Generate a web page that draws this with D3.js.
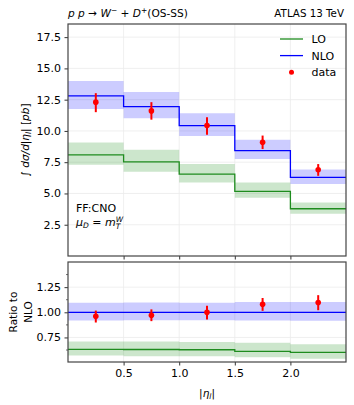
<!DOCTYPE html>
<html>
<head>
<style>
body {margin:0; background:#fff;}
text {font-family:"DejaVu Sans", sans-serif; fill:#000;}
</style>
<script src="https://d3js.org/d3.v7.min.js"></script>
</head>
<body>
<svg id="vis" width="354" height="405"></svg>
<script>
// bins in |eta_l|
var binEdges = [0, 0.5, 1.0, 1.5, 2.0, 2.5];
var binCenters = [0.25, 0.75, 1.25, 1.75, 2.25];

var nlo = [12.8, 11.95, 10.43, 8.43, 6.28];
var nloUp = [14.0, 13.12, 11.42, 9.29, 6.92];
var nloDn = [11.76, 11.02, 9.6, 7.75, 5.75];

var lo = [8.09, 7.53, 6.55, 5.16, 3.78];
var loUp = [9.07, 8.49, 7.35, 5.88, 4.28];
var loDn = [7.29, 6.73, 5.88, 4.66, 3.38];

var dataVal = [12.3, 11.6, 10.43, 9.1, 6.89];
var dataUp = [13.02, 12.3, 11.1, 9.63, 7.35];
var dataDn = [11.5, 10.9, 9.69, 8.55, 6.41];

var topTicks = [2.5, 5.0, 7.5, 10.0, 12.5, 15.0, 17.5];
var ratioTicks = [0.75, 1.00, 1.25];
var ratioMinor = [0.625, 0.875, 1.125, 1.375];
var xTicks = [0.5, 1.0, 1.5, 2.0];

var svg = d3.select("#vis");
var L = 68, R = 346;
var x = d3.scaleLinear().domain([0, 2.5]).range([L, R]);
var yTop = d3.scaleLinear().domain([0, 18.55]).range([256, 24]);
var yRat = d3.scaleLinear().domain([0.506, 1.5]).range([362, 262]);

var LOC = "#1e8c1e", NLOC = "#0000ff";
var FS = "11px";

// step helpers
function stepPts(vals) {
  var pts = [];
  vals.forEach(function(v, i){ pts.push([binEdges[i], v]); pts.push([binEdges[i+1], v]); });
  return pts;
}
function bandPts(up, dn) {
  var pts = [];
  up.forEach(function(v, i){ pts.push({x:binEdges[i], u:v, d:dn[i]}); pts.push({x:binEdges[i+1], u:v, d:dn[i]}); });
  return pts;
}

function panel(y, top, bot, ticks, minor, opts) {
  var g = svg.append("g");
  var clipId = "clip" + top;
  svg.append("clipPath").attr("id", clipId).append("rect")
    .attr("x", L).attr("y", top).attr("width", R - L).attr("height", bot - top);
  // grid
  g.selectAll(".gx").data(xTicks).enter().append("line")
    .attr("x1", function(d){ return x(d); }).attr("x2", function(d){ return x(d); })
    .attr("y1", top).attr("y2", bot).style("stroke", "#ebebeb").style("stroke-width", 0.8);
  g.selectAll(".gy").data(ticks).enter().append("line")
    .attr("x1", L).attr("x2", R)
    .attr("y1", function(d){ return y(d); }).attr("y2", function(d){ return y(d); })
    .style("stroke", "#ebebeb").style("stroke-width", 0.8);

  var c = g.append("g").attr("clip-path", "url(#" + clipId + ")");
  var area = d3.area().x(function(d){ return x(d.x); })
    .y0(function(d){ return y(d.d); }).y1(function(d){ return y(d.u); });
  var line = d3.line().x(function(d){ return x(d[0]); }).y(function(d){ return y(d[1]); });

  c.append("path").datum(bandPts(opts.loUp, opts.loDn)).attr("d", area)
    .style("fill", "#008000").style("fill-opacity", 0.2);
  c.append("path").datum(bandPts(opts.nloUp, opts.nloDn)).attr("d", area)
    .style("fill", NLOC).style("fill-opacity", 0.2);
  c.append("path").datum(stepPts(opts.lo)).attr("d", line)
    .style("fill", "none").style("stroke", LOC).style("stroke-width", 1.3);
  c.append("path").datum(stepPts(opts.nlo)).attr("d", line)
    .style("fill", "none").style("stroke", NLOC).style("stroke-width", 1.3);

  // data points
  var pts = c.selectAll(".pt").data(opts.data).enter().append("g");
  pts.append("line")
    .attr("x1", function(d, i){ return x(binCenters[i]); }).attr("x2", function(d, i){ return x(binCenters[i]); })
    .attr("y1", function(d){ return y(d.u); }).attr("y2", function(d){ return y(d.d); })
    .style("stroke", "red").style("stroke-width", 2);
  pts.append("circle")
    .attr("cx", function(d, i){ return x(binCenters[i]); }).attr("cy", function(d){ return y(d.v); })
    .attr("r", 2.8).style("fill", "red");

  // axes
  var ya = d3.axisLeft(y).tickValues(ticks).tickSize(3.5).tickPadding(3.5)
    .tickFormat(opts.fmt);
  var yg = g.append("g").attr("transform", "translate(" + L + ",0)").call(ya);
  yg.select(".domain").remove();
  yg.selectAll("text").style("font-size", FS);
  if (minor) {
    g.selectAll(".mn").data(minor).enter().append("line")
      .attr("x1", L - 2).attr("x2", L)
      .attr("y1", function(d){ return y(d); }).attr("y2", function(d){ return y(d); })
      .style("stroke", "#333").style("stroke-width", 0.7);
  }
  var xa = d3.axisBottom(x).tickValues(xTicks).tickSize(3.5).tickPadding(3.5)
    .tickFormat(opts.xlabels ? d3.format(".1f") : "");
  var xg = g.append("g").attr("transform", "translate(0," + bot + ")").call(xa);
  xg.select(".domain").remove();
  xg.selectAll("text").style("font-size", FS);
  g.selectAll(".tick line").style("stroke", "#333");

  g.append("rect").attr("x", L).attr("y", top).attr("width", R - L).attr("height", bot - top)
    .style("fill", "none").style("stroke", "#444").style("stroke-width", 1.2);
}

panel(yTop, 24, 256, topTicks, null, {
  lo: lo, loUp: loUp, loDn: loDn, nlo: nlo, nloUp: nloUp, nloDn: nloDn,
  data: dataVal.map(function(v, i){ return {v: v, u: dataUp[i], d: dataDn[i]}; }),
  fmt: d3.format(".1f"), xlabels: false
});

function rat(a) { return a.map(function(v, i){ return v / nlo[i]; }); }
panel(yRat, 262, 362, ratioTicks, ratioMinor, {
  lo: rat(lo), loUp: rat(loUp), loDn: rat(loDn), nlo: rat(nlo), nloUp: rat(nloUp), nloDn: rat(nloDn),
  data: dataVal.map(function(v, i){ return {v: v / nlo[i], u: dataUp[i] / nlo[i], d: dataDn[i] / nlo[i]}; }),
  fmt: d3.format(".2f"), xlabels: true
});

// titles
var t1 = svg.append("text").attr("x", L).attr("y", 17).style("font-size", "10.6px");
t1.append("tspan").style("font-style", "italic").text("p p");
t1.append("tspan").text(" \u2192 ");
t1.append("tspan").style("font-style", "italic").text("W");
t1.append("tspan").attr("dy", -4).style("font-size", "7.5px").text("\u2212");
t1.append("tspan").attr("dy", 4).text(" + ");
t1.append("tspan").style("font-style", "italic").text("D");
t1.append("tspan").attr("dy", -4).style("font-size", "7.5px").text("+");
t1.append("tspan").attr("dy", 4).text("(OS-SS)");
svg.append("text").attr("x", 344).attr("y", 17).attr("text-anchor", "end")
  .style("font-size", "10.3px").text("ATLAS 13 TeV");

// y label
var yl = svg.append("text").attr("transform", "translate(29,140) rotate(-90)")
  .attr("text-anchor", "middle").style("font-size", "10.5px");
yl.append("tspan").text("\u222B ");
yl.append("tspan").style("font-style", "italic").text("d\u03C3/d|\u03B7");
yl.append("tspan").attr("dy", 2).style("font-size", "7.5px").style("font-style", "italic").text("l");
yl.append("tspan").attr("dy", -2).text("|    [");
yl.append("tspan").style("font-style", "italic").text("pb");
yl.append("tspan").text("]");

var rl = svg.append("text").attr("transform", "translate(17,312) rotate(-90)")
  .attr("text-anchor", "middle").style("font-size", "10.5px");
rl.append("tspan").attr("x", 0).attr("dy", 0).text("Ratio to");
rl.append("tspan").attr("x", 0).attr("dy", 14.5).text("NLO");

var xl = svg.append("text").attr("x", x(1.25)).attr("y", 397).attr("text-anchor", "middle")
  .style("font-size", "10.5px");
xl.append("tspan").text("|");
xl.append("tspan").style("font-style", "italic").text("\u03B7");
xl.append("tspan").attr("dy", 2).style("font-size", "7.5px").style("font-style", "italic").text("l");
xl.append("tspan").attr("dy", -2).text("|");

// annotation
svg.append("text").attr("x", 76).attr("y", 211.5).style("font-size", FS).text("FF:CNO");
var mu = svg.append("text").attr("x", 76).attr("y", 226).style("font-size", FS);
mu.append("tspan").style("font-style", "italic").text("\u03BC");
mu.append("tspan").attr("dy", 2).style("font-size", "7.5px").style("font-style", "italic").text("D");
mu.append("tspan").attr("dy", -2).text(" = ");
mu.append("tspan").style("font-style", "italic").text("m");
mu.append("tspan").attr("dy", -4.5).style("font-size", "7.5px").style("font-style", "italic").text("W");
mu.append("tspan").attr("dx", -7.5).attr("dy", 7.5).style("font-size", "7.5px").style("font-style", "italic").text("T");

// legend
var legItems = [
  {name: "LO", type: "line", color: LOC},
  {name: "NLO", type: "line", color: NLOC},
  {name: "data", type: "dot", color: "red"}
];
var lg = svg.append("g").selectAll("g").data(legItems).enter().append("g")
  .attr("transform", function(d, i){ return "translate(0," + (39 + i * 16.6) + ")"; });
lg.filter(function(d){ return d.type == "line"; }).append("line")
  .attr("x1", 280).attr("x2", 303).attr("y1", 0).attr("y2", 0)
  .style("stroke", function(d){ return d.color; }).style("stroke-width", 1.3);
lg.filter(function(d){ return d.type == "dot"; }).append("circle")
  .attr("cx", 291.5).attr("cy", 0).attr("r", 2.5).style("fill", "red");
lg.append("text").attr("x", 311.5).attr("y", 4).style("font-size", FS)
  .text(function(d){ return d.name; });
</script>
</body>
</html>
